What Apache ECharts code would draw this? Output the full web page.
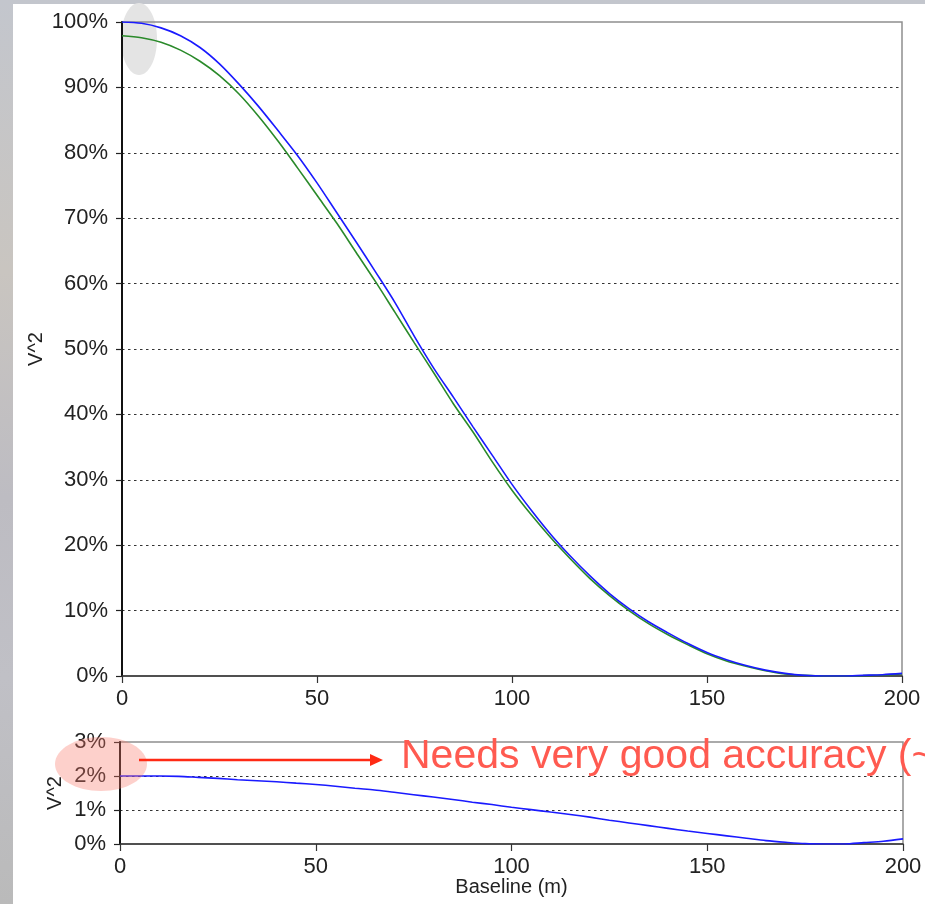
<!DOCTYPE html>
<html>
<head>
<meta charset="utf-8">
<script src="https://cdn.jsdelivr.net/npm/echarts@6/dist/echarts.min.js"></script>
<style>
  html, body { margin: 0; padding: 0; }
  #chart {
    width: 925px;
    height: 904px;
    background: linear-gradient(to bottom, #c3c6cd 0%, #c9c5c0 30%, #bdbcc2 55%, #c0c0c6 75%, #bababa 100%);
  }
</style>
</head>
<body>
<div id="chart"></div>
<script>
// Baseline in metres
const baseline = [
  0, 5, 10, 15, 20, 25, 30, 35, 40, 45,
  50, 55, 60, 65, 70, 75, 80, 85, 90, 95,
  100, 105, 110, 115, 120, 125, 130, 135, 140, 145,
  150, 155, 160, 165, 170, 175, 180, 185, 190, 195, 200
];

// Squared visibility (%), reference model
const v2Blue = [
  100.0, 99.8, 99.1, 97.9, 96.1, 93.6, 90.5, 87.1, 83.4, 79.6,
  75.4, 70.9, 66.4, 61.8, 57.1, 51.9, 47.0, 42.6, 38.1, 33.7,
  29.3, 25.3, 21.6, 18.3, 15.3, 12.6, 10.3, 8.3, 6.6, 5.0,
  3.6, 2.5, 1.6, 0.9, 0.4, 0.1, 0.0, 0.0, 0.1, 0.2, 0.4
];

// Squared visibility (%), perturbed model
const v2Green = [
  97.9, 97.6, 96.9, 95.7, 94.0, 91.8, 89.0, 85.6, 81.8, 77.7,
  73.5, 69.3, 64.8, 60.3, 55.6, 50.9, 46.3, 41.6, 37.3, 32.7,
  28.4, 24.6, 21.1, 17.9, 14.9, 12.3, 10.0, 8.0, 6.3, 4.8,
  3.4, 2.3, 1.5, 0.8, 0.3, 0.1, 0.0, 0.0, 0.05, 0.15, 0.3
];

// Squared visibility (%), faint component
const v2Faint = [
  2.00, 2.00, 2.00, 1.99, 1.96, 1.93, 1.89, 1.86, 1.83, 1.79,
  1.75, 1.70, 1.64, 1.59, 1.52, 1.45, 1.38, 1.31, 1.23, 1.16,
  1.08, 1.01, 0.94, 0.87, 0.79, 0.70, 0.62, 0.54, 0.46, 0.38,
  0.31, 0.24, 0.17, 0.10, 0.05, 0.01, 0.00, 0.00, 0.04, 0.08, 0.15
];

// Axis ticks
const xTicks = [0, 50, 100, 150, 200];
const mainYTicks = [0, 10, 20, 30, 40, 50, 60, 70, 80, 90, 100];
const faintYTicks = [0, 1, 2, 3];

const FONT = '"Liberation Sans", Arial, Helvetica, sans-serif';
const pairs = vals => baseline.map((b, i) => [b, vals[i]]);

const chart = echarts.init(document.getElementById('chart'), null, { renderer: 'canvas' });

function xAxisFor(gridIndex, extra) {
  return Object.assign({
    type: 'value',
    gridIndex: gridIndex,
    min: xTicks[0],
    max: xTicks[xTicks.length - 1],
    interval: xTicks[1] - xTicks[0],
    axisLine: { show: true, onZero: false, lineStyle: { color: '#333', width: 1.5 } },
    axisTick: { show: true, length: 7, lineStyle: { color: '#333', width: 1.2 } },
    axisLabel: { color: '#222', fontSize: 22, fontFamily: FONT, margin: 12 },
    splitLine: { show: false }
  }, extra || {});
}

function yAxisFor(gridIndex, ticks, nameGap) {
  return {
    type: 'value',
    gridIndex: gridIndex,
    min: ticks[0],
    max: ticks[ticks.length - 1],
    interval: ticks[1] - ticks[0],
    name: 'V^2',
    nameLocation: 'middle',
    nameGap: nameGap,
    nameMoveOverlap: false,
    nameTextStyle: { color: '#222', fontSize: 20, fontFamily: FONT },
    axisLine: { show: true, onZero: false, lineStyle: { color: '#111', width: 2 } },
    axisTick: { show: true, length: 6, lineStyle: { color: '#222', width: 1.2 } },
    axisLabel: { color: '#222', fontSize: 22, fontFamily: FONT, margin: 14, formatter: '{value}%' },
    splitLine: {
      show: true,
      showMinLine: false,
      showMaxLine: false,
      lineStyle: { color: '#333', width: 1.2, type: [2.5, 3.5] }
    }
  };
}

const lineSeries = (xi, yi, vals, color, z) => ({
  type: 'line', xAxisIndex: xi, yAxisIndex: yi,
  data: pairs(vals),
  showSymbol: false, smooth: 0.3,
  lineStyle: { color: color, width: 1.6 }, z: z
});

const option = {
  animation: false,
  backgroundColor: 'transparent',
  grid: [
    { left: 122, top: 22, width: 780, height: 654, show: true, borderColor: '#8f8f8f', borderWidth: 1.5, backgroundColor: 'transparent' },
    { left: 120, top: 742, width: 783, height: 102, show: true, borderColor: '#8f8f8f', borderWidth: 1.5, backgroundColor: 'transparent' }
  ],
  xAxis: [
    xAxisFor(0),
    xAxisFor(1, {
      name: 'Baseline (m)',
      nameLocation: 'middle',
      nameGap: 33,
      nameMoveOverlap: false,
      nameTextStyle: { color: '#222', fontSize: 20, fontFamily: FONT }
    })
  ],
  yAxis: [
    yAxisFor(0, mainYTicks, 76),
    yAxisFor(1, faintYTicks, 55)
  ],
  series: [
    lineSeries(0, 0, v2Green, '#2a8a2a', 2),
    lineSeries(0, 0, v2Blue, '#1a1aff', 3),
    lineSeries(1, 1, v2Faint, '#1a1aff', 3)
  ],
  graphic: {
    elements: [
      // white slide panel
      { type: 'rect', silent: true, z: -100,
        shape: { x: 13, y: 4, width: 912, height: 900 },
        style: { fill: '#ffffff' } },
      // grey highlight near zero baseline
      { type: 'ellipse', silent: true, z: -50,
        shape: { cx: 139, cy: 39, rx: 18, ry: 36 },
        style: { fill: '#e4e4e4' } },
      // pink highlight on the faint-component panel
      { type: 'ellipse', silent: true, z: 50,
        shape: { cx: 101, cy: 764, rx: 46, ry: 27 },
        style: { fill: 'rgba(248,120,105,0.35)' } },
      // red arrow
      { type: 'line', silent: true, z: 60,
        shape: { x1: 139, y1: 760, x2: 372, y2: 760 },
        style: { stroke: '#ff2a14', lineWidth: 2.5 } },
      { type: 'polygon', silent: true, z: 60,
        shape: { points: [[370, 754], [383, 760], [370, 766]] },
        style: { fill: '#ff2a14' } },
      { type: 'text', silent: true, z: 60,
        x: 401, y: 757,
        style: {
          text: 'Needs very good accuracy (~',
          fill: '#ff5a50',
          fontSize: 41,
          fontFamily: FONT,
          align: 'left',
          verticalAlign: 'middle'
        } }
    ]
  }
};

chart.setOption(option);
</script>
</body>
</html>
